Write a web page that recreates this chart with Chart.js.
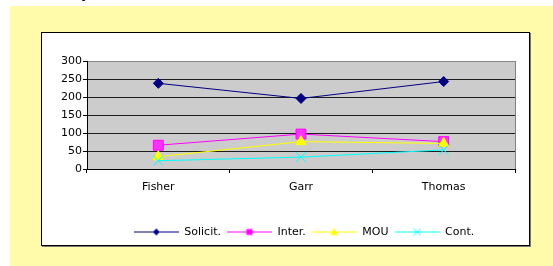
<!DOCTYPE html>
<html>
<head>
<meta charset="utf-8">
<script src="https://cdn.jsdelivr.net/npm/chart.js@4.4.0/dist/chart.umd.min.js"></script>
<style>
html,body{margin:0;padding:0;background:#fff;width:553px;height:266px;overflow:hidden}
#head{position:absolute;left:33px;top:-18px;font:bold 18px "Liberation Sans",Arial,sans-serif;line-height:18px;color:#000;z-index:0}
#panel{position:absolute;left:10px;top:6px;width:543px;height:260px;background:#fffbab;z-index:1}
#box{position:absolute;left:41px;top:32px;width:487px;height:212px;border:1px solid #000;background:#fff;box-shadow:1px 1px 0 #777;z-index:2}
#box canvas{position:absolute;left:0;top:0}
</style>
</head>
<body>
<div id="head">Example</div>
<div id="panel"></div>
<div id="box"><canvas id="chart" width="487" height="212"></canvas></div>
<script>
// data
const categories = ['Fisher', 'Garr', 'Thomas'];
const seriesNames = ['Solicit.', 'Inter.', 'MOU', 'Cont.'];
const solicit = [238, 196, 243];
const inter = [66, 97, 76];
const mou = [34, 76, 71];
const cont = [23, 33, 53];
const yMin = 0, yMax = 300, yStep = 50;

const FONT = '"DejaVu Sans", Verdana, sans-serif';

// little legend icons: a line with the marker in the middle
function legendIcon(color, kind) {
  const c = document.createElement('canvas');
  c.width = 45; c.height = 11;
  const g = c.getContext('2d');
  g.strokeStyle = color; g.fillStyle = color; g.lineWidth = 1;
  g.beginPath(); g.moveTo(0, 5.5); g.lineTo(45, 5.5); g.stroke();
  const x = 22.5, y = 5.5;
  g.beginPath();
  if (kind == 'diamond') {
    g.moveTo(x, y - 3.5); g.lineTo(x + 3.5, y); g.lineTo(x, y + 3.5); g.lineTo(x - 3.5, y);
    g.closePath(); g.fill();
  } else if (kind == 'square') {
    g.fillRect(x - 3, y - 3, 6, 6);
  } else if (kind == 'triangle') {
    g.moveTo(x, y - 4); g.lineTo(x + 4, y + 3); g.lineTo(x - 4, y + 3);
    g.closePath(); g.fill();
  } else {
    g.moveTo(x - 3.5, y - 3.5); g.lineTo(x + 3.5, y + 3.5);
    g.moveTo(x + 3.5, y - 3.5); g.lineTo(x - 3.5, y + 3.5);
    g.stroke();
  }
  return c;
}
const icons = [
  legendIcon('#000080', 'diamond'),
  legendIcon('#ff00ff', 'square'),
  legendIcon('#ffff00', 'triangle'),
  legendIcon('#00ffff', 'cross')
];

// grey plot area + grey right edge, legend centred under the plot
const plotArea = {
  id: 'plotArea',
  beforeDraw(chart) {
    const {ctx, chartArea: a} = chart;
    ctx.save();
    ctx.fillStyle = '#cccccc';
    ctx.fillRect(a.left, a.top, a.right - a.left, a.bottom - a.top);
    ctx.restore();
  },
  beforeDatasetsDraw(chart) {
    const {ctx, chartArea: a} = chart;
    ctx.save();
    ctx.strokeStyle = '#808080';
    ctx.lineWidth = 1;
    ctx.beginPath();
    ctx.moveTo(Math.round(a.right) + 0.5, a.top);
    ctx.lineTo(Math.round(a.right) + 0.5, a.bottom);
    ctx.stroke();
    ctx.restore();
  },
  afterLayout(chart) {
    const lg = chart.legend, a = chart.chartArea;
    lg.left = a.left + 3; lg.right = a.right + 3;
    const h = lg.height;
    lg.top = 187.5; lg.bottom = lg.top + h;
  }
};

new Chart(document.getElementById('chart'), {
  type: 'line',
  data: {
    labels: categories,
    datasets: [
      {label: seriesNames[0], data: solicit, borderColor: '#000080', backgroundColor: '#000080',
       borderWidth: 1, pointStyle: 'rectRot', pointRadius: 5, order: 4},
      {label: seriesNames[1], data: inter, borderColor: '#ff00ff', backgroundColor: '#ff33ff',
       borderWidth: 1, pointStyle: 'rect', pointRadius: 7, order: 3},
      {label: seriesNames[2], data: mou, borderColor: '#ffff00', backgroundColor: '#ffff00',
       borderWidth: 1, pointStyle: 'triangle', pointRadius: 6, order: 2},
      {label: seriesNames[3], data: cont, borderColor: '#00ffff', backgroundColor: '#00ffff',
       borderWidth: 1, pointStyle: 'crossRot', pointRadius: 7, pointBorderWidth: 1, order: 1}
    ]
  },
  options: {
    responsive: false,
    animation: false,
    devicePixelRatio: 1,
    layout: {padding: {top: 28, right: 14, bottom: 9, left: 0}},
    elements: {line: {tension: 0}},
    scales: {
      x: {
        offset: true,
        afterFit(s) { s.height = 40; },
        grid: {offset: true, drawOnChartArea: false, tickLength: 4, tickColor: '#000'},
        border: {color: '#000'},
        ticks: {color: '#000', padding: 8, font: {family: FONT, size: 11}}
      },
      y: {
        min: yMin, max: yMax,
        afterFit(s) { s.width = 45; },
        grid: {
          tickLength: 4, tickColor: '#000',
          color: c => c.tick.value == yMax ? '#888888' : '#1e1e1e'
        },
        border: {color: '#000'},
        ticks: {stepSize: yStep, color: '#000', padding: 1, font: {family: FONT, size: 11}}
      }
    },
    plugins: {
      tooltip: {enabled: false},
      legend: {
        position: 'bottom',
        labels: {
          usePointStyle: true,
          pointStyleWidth: 45,
          padding: 6,
          color: '#000',
          font: {family: FONT, size: 11},
          sort: (a, b) => a.datasetIndex - b.datasetIndex,
          generateLabels(chart) {
            const items = Chart.defaults.plugins.legend.labels.generateLabels(chart);
            items.forEach(it => { it.pointStyle = icons[it.datasetIndex]; });
            return items;
          }
        }
      }
    }
  },
  plugins: [plotArea]
});
</script>
</body>
</html>
